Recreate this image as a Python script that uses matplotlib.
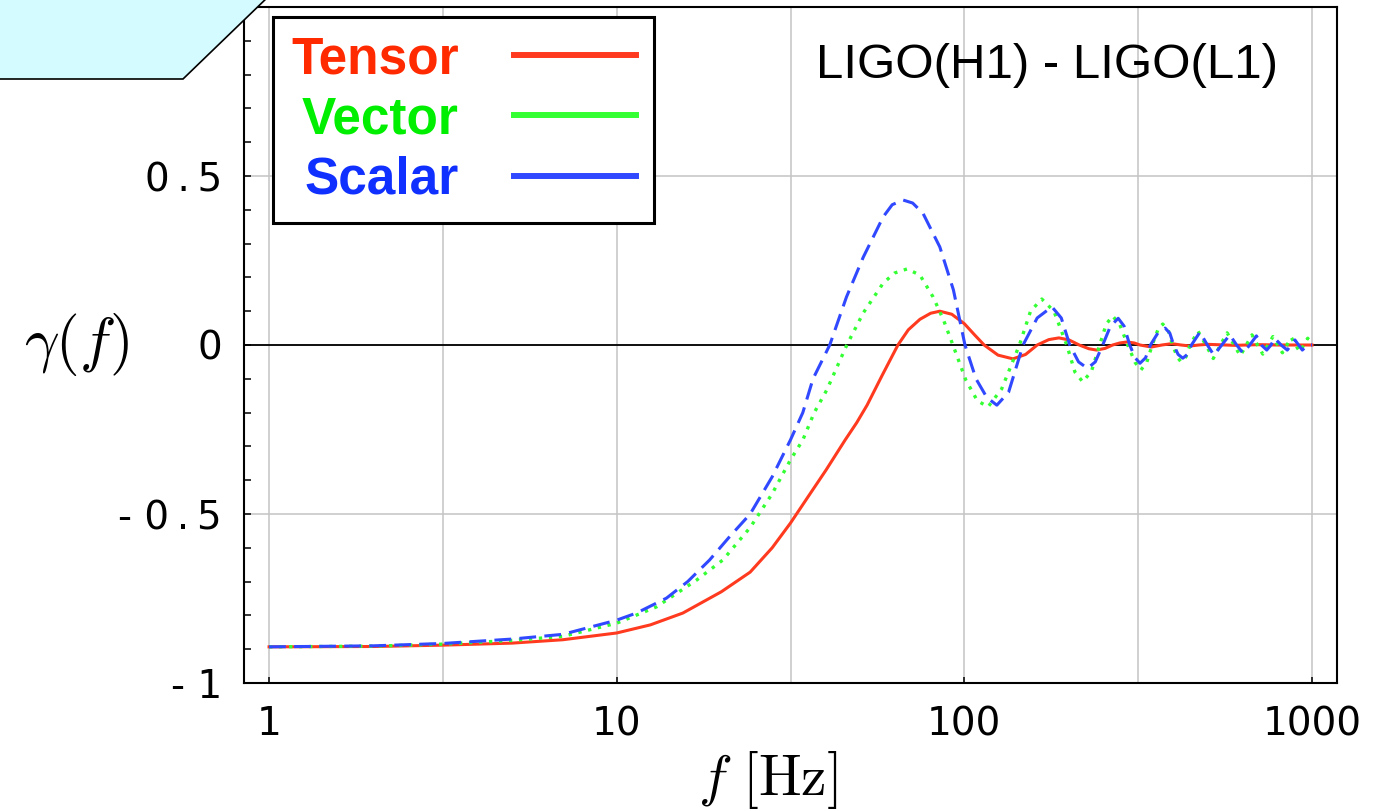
import numpy as np
import matplotlib.pyplot as plt
from matplotlib.lines import Line2D
from matplotlib.patches import Polygon
from matplotlib.ticker import NullFormatter

plt.rcParams['mathtext.fontset'] = 'cm'

# values (f in Hz, gamma(f))
f_tensor = [1, 2, 3.16, 5, 7, 10, 12.5, 15.5, 20, 24.2, 28, 31.6, 36, 40, 45.4,
            49, 52.5, 58, 64.4, 69, 74.5, 80, 85, 92, 100, 107, 114, 125, 138, 150,
            162, 175, 187, 200, 214, 228, 240, 254, 267, 280, 294, 308, 320, 345,
            370, 395, 420, 446, 472, 500, 600, 700, 800, 900, 1000]
g_tensor = [-0.893, -0.892, -0.888, -0.882, -0.872, -0.852, -0.828, -0.793, -0.73,
            -0.672, -0.60, -0.527, -0.44, -0.37, -0.281, -0.23, -0.178, -0.09, 0.0,
            0.045, 0.076, 0.094, 0.10, 0.091, 0.063, 0.03, 0.0, -0.03, -0.041,
            -0.028, 0.0, 0.016, 0.021, 0.015, 0.0, -0.011, -0.015, -0.01, 0.0,
            0.006, 0.009, 0.006, 0.0, -0.006, 0.0, 0.004, 0.0, -0.003, 0.0, 0.002,
            -0.001, 0.001, 0.0, 0.0, 0.0]

f_vector = [1, 2, 3.16, 5, 7, 10, 13, 17, 20.2, 24.2, 28, 31.6, 34.3, 37, 40.2,
            45.9, 51.2, 58.4, 63, 68.4, 74.5, 81.3, 87.1, 92.7, 101, 109, 117, 128,
            144, 155, 167, 181, 197, 208, 219, 232, 245, 256, 267, 280, 295, 310,
            322, 335, 347, 360, 372, 386, 397, 410, 420, 434, 446, 470, 495, 520,
            545, 570, 597, 622, 647, 672, 697, 722, 747, 772, 797, 822, 847, 872,
            897, 922, 947, 972, 1000]
g_vector = [-0.893, -0.891, -0.885, -0.874, -0.862, -0.823, -0.775, -0.695, -0.636,
            -0.54, -0.44, -0.34, -0.281, -0.20, -0.133, 0.0, 0.095, 0.183, 0.213,
            0.225, 0.207, 0.142, 0.074, 0.0, -0.104, -0.165, -0.183, -0.13, 0.0,
            0.10, 0.136, 0.10, 0.0, -0.08, -0.109, -0.078, 0.0, 0.062, 0.086, 0.06,
            0.0, -0.052, -0.074, -0.05, 0.0, 0.044, 0.062, 0.044, 0.0, -0.036,
            -0.05, -0.035, 0.0, 0.041, 0.0, -0.04, 0.0, 0.036, 0.0, -0.032, 0.0,
            0.03, 0.0, -0.027, 0.0, 0.025, 0.0, -0.023, 0.0, 0.022, 0.0, -0.02,
            0.0, 0.02, 0.0]

f_scalar = [1, 2, 3.16, 5, 7, 10, 11.4, 13.9, 16, 18.5, 21, 24.2, 28, 31.6, 34.3,
            36.7, 41, 45.8, 51.2, 58.4, 62, 66.6, 71, 76, 85, 93, 100.4, 108, 116,
            124, 134, 147.5, 162, 178.6, 190, 201, 213, 226, 238, 250, 263, 277,
            288, 299, 310, 320, 332, 343, 360, 378, 390, 400, 412, 425, 438, 450,
            476, 500, 522, 550, 580, 607, 633, 662, 692, 715, 741, 762, 781, 815,
            849, 871, 893, 915, 938, 970, 1000]
g_scalar = [-0.893, -0.890, -0.883, -0.870, -0.856, -0.814, -0.793, -0.749, -0.70,
            -0.636, -0.57, -0.50, -0.39, -0.281, -0.20, -0.10, 0.0, 0.142, 0.26,
            0.379, 0.415, 0.429, 0.42, 0.39, 0.29, 0.163, 0.0, -0.10, -0.155,
            -0.178, -0.14, 0.0, 0.08, 0.113, 0.08, 0.0, -0.05, -0.069, -0.05, 0.0,
            0.055, 0.079, 0.056, 0.0, -0.038, -0.054, -0.038, 0.0, 0.035, 0.050,
            0.035, 0.0, -0.028, -0.039, -0.028, 0.0, 0.038, 0.0, -0.03, 0.0, 0.03,
            0.0, -0.024, 0.0, 0.027, 0.0, -0.015, 0.0, 0.02, 0.0, -0.015, 0.0,
            0.015, 0.0, -0.015, 0.0, 0.0]

series_names = ['Tensor', 'Vector', 'Scalar']
line_colors = ['#ff3a1f', '#33ff33', '#3048ff']
label_colors = ['#ff2a00', '#00ee00', '#1030ff']

x_ticks = [1, 10, 100, 1000]
x_ticklabels = ['1', '10', '100', '1000']
y_ticks = [-1, -0.5, 0, 0.5, 1]
y_ticklabels = ['- 1', '- 0\u2009.\u20095', '0', '0\u2009.\u20095', '']

fig = plt.figure(figsize=(13.76, 8.11), dpi=100)
ax = fig.add_axes([244 / 1376, 128 / 811, 1093 / 1376, 676 / 811])

ax.plot(f_tensor, g_tensor, color=line_colors[0], lw=2.2, zorder=3)
ax.plot(f_vector, g_vector, color=line_colors[1], lw=2.4, ls=(0, (1, 2)), zorder=4)
ax.plot(f_scalar, g_scalar, color=line_colors[2], lw=2.2, ls=(0, (5.5, 2.7)), zorder=5)
ax.axhline(0, color='black', lw=1.3, zorder=2)

ax.set_xscale('log')
ax.set_xlim(0.847, 1180)
ax.set_ylim(-1, 1)

ax.set_xticks(x_ticks)
ax.set_xticklabels(x_ticklabels)
ax.set_xticks([10 ** 0.5, 10 ** 1.5, 10 ** 2.5], minor=True)
ax.xaxis.set_minor_formatter(NullFormatter())
ax.set_yticks(y_ticks)
ax.set_yticklabels(y_ticklabels)
ax.set_yticks(np.arange(-1, 1.001, 0.1), minor=True)

ax.tick_params(which='both', direction='in', top=False, right=False, labelsize=28)
ax.tick_params(axis='y', which='both', length=5, width=1.1, pad=16)
ax.tick_params(axis='x', which='major', length=4, width=1.1, pad=16)
ax.tick_params(axis='x', which='minor', length=0)

ax.grid(True, axis='x', which='both', color='#c4c4c4', lw=1.1)
ax.grid(True, axis='y', which='major', color='#c4c4c4', lw=1.1)
for s in ax.spines.values():
    s.set_linewidth(1.5)

ax.text(0.735, 0.913, 'LIGO(H1) - LIGO(L1)', transform=ax.transAxes,
        ha='center', va='center', fontsize=35.5, family='Liberation Sans')

ax.set_ylabel(r'$\gamma(f)$', rotation=0, fontsize=44, ha='center', va='center')
ax.yaxis.set_label_coords(-0.153, 0.5)
ax.set_xlabel(r'$f\ [\mathrm{Hz}]$', fontsize=41, va='center')
ax.xaxis.set_label_coords(0.479, -0.143)

handles = [Line2D([], [], color=c, lw=4.3) for c in line_colors]
leg = ax.legend(handles, series_names, loc='upper left', bbox_to_anchor=(0.0265, 0.985),
                borderaxespad=0, markerfirst=False, labelcolor=label_colors,
                prop={'family': 'Liberation Sans', 'weight': 'bold', 'size': 37},
                handlelength=2.39, handletextpad=1.07, labelspacing=0.22,
                borderpad=0.35, fancybox=False, edgecolor='black', framealpha=1)
leg.get_frame().set_linewidth(2.2)

# light cyan callout corner in the top left
corner = [(-5, -5), (270, -5), (183, 79), (-5, 79)]
poly = Polygon([(x / 1376, 1 - y / 811) for x, y in corner], closed=True,
               facecolor='#d4fbff', edgecolor='black', lw=1.2,
               transform=fig.transFigure, zorder=10)
fig.add_artist(poly)

fig.savefig('out.png', dpi=100)
